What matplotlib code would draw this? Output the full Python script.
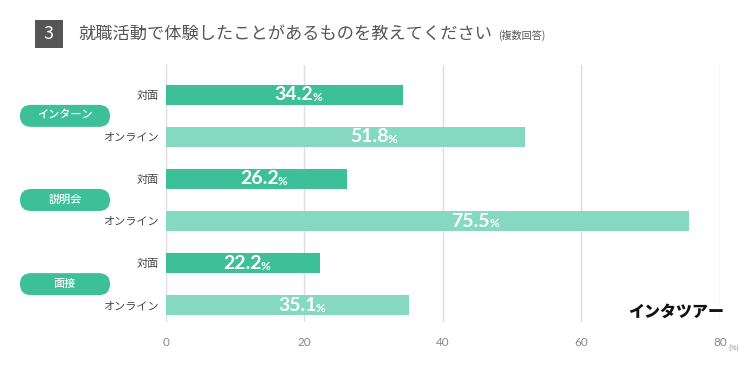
import matplotlib
matplotlib.use("Agg")
import matplotlib.pyplot as plt
from matplotlib.patches import FancyBboxPatch, Rectangle

plt.rcParams['font.family'] = ['Noto Sans CJK JP', 'DejaVu Sans']

# ── データ ──────────────────────────────────────────────
groups     = ["インターン", "説明会", "面接"]
sub_labels = ["対面", "オンライン"]
values     = [34.2, 51.8, 26.2, 75.5, 22.2, 35.1]
xticks     = [0, 20, 40, 60, 80]

DARK  = "#3dbf98"
LIGHT = "#86d9c1"
GRAY  = "#555555"

fig = plt.figure(figsize=(7.56, 3.67), dpi=100)
ax = fig.add_axes([0.2196, 0.1226, 0.7326, 0.7004])

ypos = list(range(len(values)))
colors = [DARK if i % 2 == 0 else LIGHT for i in ypos]
ax.barh(ypos, values, height=0.48, color=colors, zorder=2)

ax.set_xlim(0, 80)
ax.set_ylim(5.4, -0.71)
ax.set_xticks(xticks)
ax.set_xticklabels([str(t) for t in xticks], color="#888888", fontsize=8.5,
                   family=['Lato', 'DejaVu Sans'])
ax.tick_params(axis="x", length=0, pad=11)
ax.set_yticks(ypos)
ax.set_yticklabels([sub_labels[i % 2] for i in ypos], fontsize=8, color="#444444")
ax.tick_params(axis="y", length=0, pad=5)
for s in ax.spines.values():
    s.set_visible(False)
ax.grid(axis="x", color="#dddddd", linewidth=1, zorder=0)
ax.set_axisbelow(True)
fig.text(0.964, 0.045, "(%)", fontsize=5, color="#888888")

# 値ラベル
for y, v in zip(ypos, values):
    xl = v * 0.62
    ax.text(xl, y, f"{v:.1f}", ha="right", va="center", color="white",
            fontsize=14, fontweight="bold", family=['Lato', 'DejaVu Sans'], zorder=3)
    ax.text(xl - 0.1, y + 0.07, "%", ha="left", va="center", color="white",
            fontsize=8.5, fontweight="bold", family=['Lato', 'DejaVu Sans'], zorder=3)

# グループラベル（ピル）— ピクセル座標で描く
fig.canvas.draw()
for gi, g in enumerate(groups):
    yc = gi * 2 + 0.5
    _, ypx = ax.transData.transform((0, yc))
    w, h, x0 = 90, 22, 20
    pill = FancyBboxPatch((x0, ypx - h / 2), w, h,
                          boxstyle="round,pad=0,rounding_size=11",
                          transform=None, facecolor=DARK, edgecolor="none")
    fig.patches.append(pill)
    fig.text((x0 + w / 2) / 756, ypx / 367, g, ha="center", va="center",
             color="white", fontsize=8, fontweight="medium")

# タイトル
fig.patches.append(Rectangle((35 / 756, 1 - 48 / 367), 28 / 756, 28 / 367,
                             transform=fig.transFigure, facecolor=GRAY,
                             edgecolor="none"))
fig.text(49 / 756, 1 - 34 / 367, "3", ha="center", va="center", color="white",
         fontsize=13)
title = fig.text(78 / 756, 1 - 34 / 367, "就職活動で体験したことがあるものを教えてください",
                 ha="left", va="center", color=GRAY, fontsize=12.4)
tb = title.get_window_extent(renderer=fig.canvas.get_renderer())
fig.text((tb.x1 + 6) / 756, 1 - 35 / 367, "(複数回答)", ha="left", va="center",
         color=GRAY, fontsize=7.3)

# ロゴ
fig.text(676 / 756, 1 - 312 / 367, "インタツアー", ha="center", va="center",
         color="#111111", fontsize=11.5, fontweight="black", style="italic")

fig.savefig("out.png", dpi=100)
